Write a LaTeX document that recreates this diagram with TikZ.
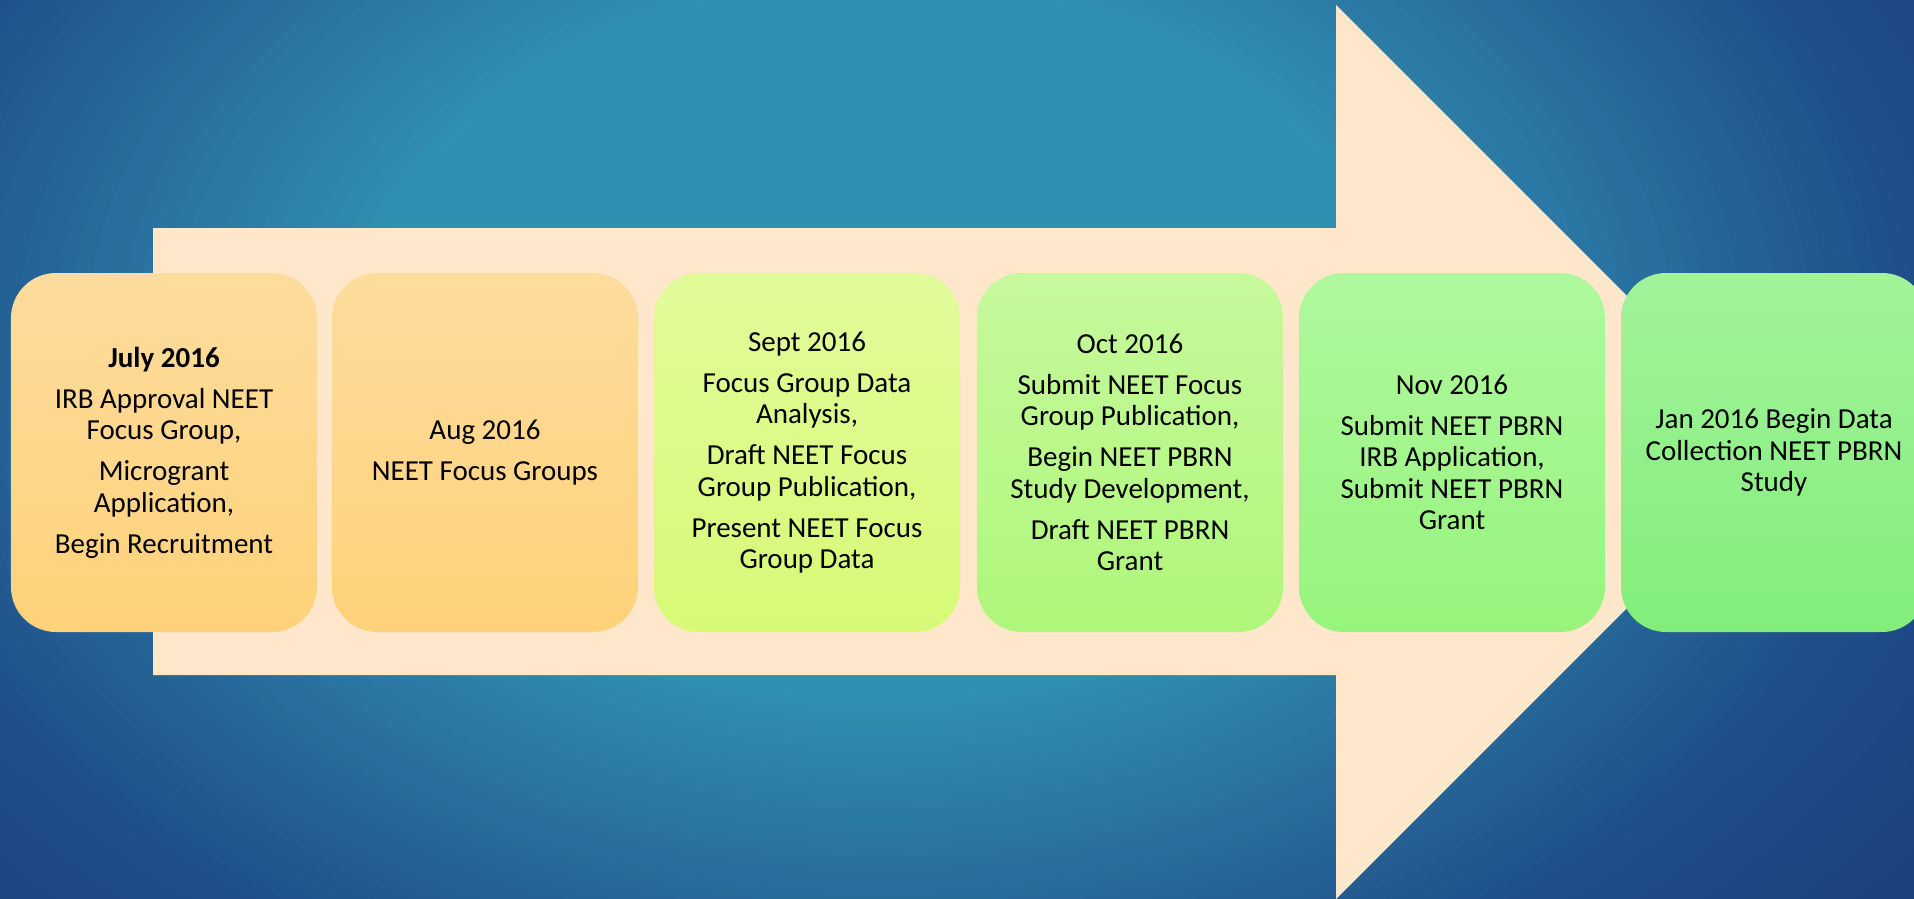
\documentclass[tikz,border=0pt]{standalone}
\usepackage{fontspec}
\setmainfont{Carlito}
\definecolor{bgc}{HTML}{3190B2}
\definecolor{bge}{HTML}{1F4E8A}
\definecolor{bgd}{HTML}{1A3D7A}
\definecolor{arrowc}{HTML}{FEE7CA}
\tikzset{
  stepbox/.style={rounded corners=45bp, minimum width=306bp, minimum height=359bp,
    inner sep=0pt, align=center, text=black,
    font=\fontsize{29bp}{31.4bp}\selectfont},
}
\begin{document}
\begin{tikzpicture}[x=1bp,y=-1bp]
\useasboundingbox (0,0) rectangle (1914,899);
\clip (0,0) rectangle (1914,899);
\fill[bgd] (0,0) rectangle (1914,899);
% background radial gradient built from nested ellipses
\foreach \i in {0,...,15} {
  \pgfmathsetmacro\f{1.2-0.02*\i}
  \pgfmathsetmacro\p{\i/15*100}
  \fill[bge!\p!bgd] (880,340) ellipse [x radius={\f*1150bp}, y radius={\f*800bp}];
}
\foreach \i in {1,...,30} {
  \pgfmathsetmacro\f{0.9-0.015*\i}
  \pgfmathsetmacro\p{\i/30*100}
  \fill[bgc!\p!bge] (880,340) ellipse [x radius={\f*1150bp}, y radius={\f*800bp}];
}
% arrow
\fill[arrowc] (153,228) -- (1336,228) -- (1336,5) -- (1783,452) -- (1336,899) -- (1336,675) -- (153,675) -- cycle;
% boxes
\node[stepbox, top color={rgb,255:red,254;green,220;blue,157}, bottom color={rgb,255:red,254;green,210;blue,122}] (b1) at (164,452.5)
  {\textbf{July 2016}\\[9.6bp] IRB Approval NEET\\ Focus Group,\\[9.6bp] Microgrant\\ Application,\\[9.6bp] Begin Recruitment};
\node[stepbox, top color={rgb,255:red,254;green,220;blue,157}, bottom color={rgb,255:red,254;green,210;blue,122}] (b2) at (485,452.5)
  {Aug 2016\\[9.6bp] NEET Focus Groups};
\node[stepbox, top color={rgb,255:red,226;green,251;blue,154}, bottom color={rgb,255:red,214;green,250;blue,118}] (b3) at (807,452.5)
  {Sept 2016\\[9.6bp] Focus Group Data\\ Analysis,\\[9.6bp] Draft NEET Focus\\ Group Publication,\\[9.6bp] Present NEET Focus\\ Group Data};
\node[stepbox, top color={rgb,255:red,198;green,249;blue,156}, bottom color={rgb,255:red,174;green,247;blue,122}] (b4) at (1130,452.5)
  {Oct 2016\\[9.6bp] Submit NEET Focus\\ Group Publication,\\[9.6bp] Begin NEET PBRN\\ Study Development,\\[9.6bp] Draft NEET PBRN\\ Grant};
\node[stepbox, top color={rgb,255:red,176;green,248;blue,158}, bottom color={rgb,255:red,150;green,244;blue,124}] (b5) at (1452,452.5)
  {Nov 2016\\[9.6bp] Submit NEET PBRN\\ IRB Application,\\ Submit NEET PBRN\\ Grant};
\node[stepbox, top color={rgb,255:red,162;green,243;blue,154}, bottom color={rgb,255:red,130;green,238;blue,122}] (b6) at (1774,452.5)
  {Jan 2016 Begin Data\\ Collection NEET PBRN\\ Study};
\end{tikzpicture}
\end{document}
